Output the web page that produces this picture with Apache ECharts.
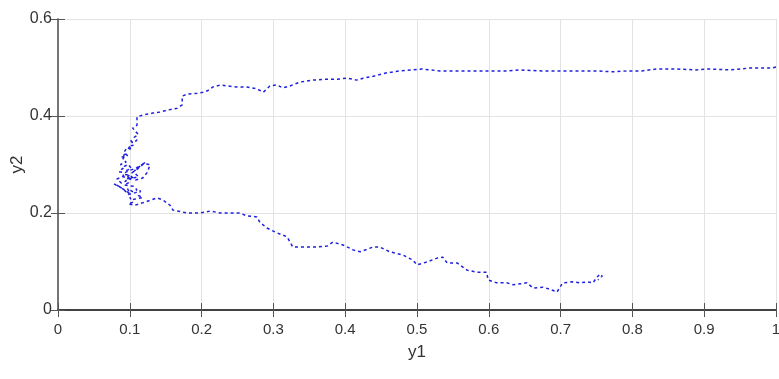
<!DOCTYPE html>
<html>
<head>
<meta charset="utf-8">
<script src="https://cdn.jsdelivr.net/npm/echarts@6/dist/echarts.min.js"></script>
<style>html,body{margin:0;padding:0;background:#fff;}#c{width:779px;height:379px;}</style>
</head>
<body>
<div id="c"></div>
<script>
// Upper branch (right to left)
var upperY1 = [1.0, 0.994, 0.964, 0.936, 0.905, 0.887, 0.862, 0.834, 0.813, 0.792, 0.773, 0.751, 0.727, 0.699, 0.674, 0.643, 0.625, 0.606, 0.588, 0.570, 0.550, 0.532, 0.518, 0.507, 0.494, 0.476, 0.458, 0.439, 0.425, 0.416, 0.403, 0.389, 0.375, 0.355, 0.337, 0.323, 0.313, 0.305, 0.295, 0.286, 0.277, 0.263, 0.249, 0.235, 0.226, 0.216, 0.208, 0.202, 0.194, 0.180, 0.173, 0.173, 0.166, 0.152, 0.142, 0.132, 0.118, 0.110, 0.110, 0.104];
var upperY2 = [0.501, 0.499, 0.499, 0.495, 0.497, 0.495, 0.497, 0.497, 0.493, 0.493, 0.491, 0.493, 0.493, 0.493, 0.493, 0.495, 0.493, 0.493, 0.493, 0.493, 0.493, 0.493, 0.495, 0.497, 0.495, 0.493, 0.489, 0.482, 0.478, 0.474, 0.478, 0.476, 0.476, 0.474, 0.470, 0.462, 0.458, 0.464, 0.462, 0.449, 0.456, 0.460, 0.460, 0.462, 0.464, 0.460, 0.452, 0.449, 0.447, 0.445, 0.441, 0.423, 0.416, 0.412, 0.408, 0.406, 0.402, 0.398, 0.381, 0.375];
// Tangled region near y1 ~ 0.1
var tangleY1 = [0.108, 0.112, 0.106, 0.110, 0.104, 0.100, 0.106, 0.098, 0.103, 0.096, 0.092, 0.097, 0.088, 0.094, 0.090, 0.095, 0.087, 0.092, 0.098, 0.102, 0.096, 0.090, 0.085, 0.093, 0.100, 0.108, 0.115, 0.122, 0.113, 0.105, 0.112, 0.100, 0.090, 0.082, 0.088, 0.095, 0.090, 0.100, 0.108, 0.118, 0.125, 0.128, 0.120, 0.110, 0.100, 0.095, 0.103, 0.098, 0.092, 0.105, 0.110, 0.104, 0.097, 0.100, 0.092, 0.085, 0.078, 0.088, 0.094, 0.098, 0.108, 0.115, 0.112, 0.118, 0.105, 0.100, 0.104, 0.098, 0.096];
var tangleY2 = [0.368, 0.362, 0.356, 0.350, 0.345, 0.352, 0.340, 0.338, 0.330, 0.335, 0.325, 0.318, 0.315, 0.322, 0.310, 0.305, 0.300, 0.296, 0.300, 0.292, 0.288, 0.292, 0.285, 0.283, 0.288, 0.292, 0.298, 0.305, 0.295, 0.285, 0.275, 0.270, 0.275, 0.270, 0.262, 0.266, 0.280, 0.278, 0.268, 0.272, 0.285, 0.300, 0.302, 0.290, 0.280, 0.270, 0.275, 0.262, 0.258, 0.255, 0.248, 0.244, 0.250, 0.240, 0.248, 0.255, 0.260, 0.252, 0.245, 0.238, 0.242, 0.246, 0.236, 0.232, 0.228, 0.232, 0.222, 0.219, 0.216];
// Lower branch (left to right)
var lowerY1 = [0.107, 0.118, 0.138, 0.146, 0.156, 0.160, 0.180, 0.198, 0.212, 0.226, 0.240, 0.253, 0.263, 0.277, 0.281, 0.291, 0.305, 0.319, 0.327, 0.341, 0.361, 0.375, 0.383, 0.397, 0.411, 0.421, 0.439, 0.448, 0.462, 0.481, 0.494, 0.500, 0.514, 0.528, 0.536, 0.542, 0.556, 0.570, 0.584, 0.597, 0.599, 0.611, 0.625, 0.634, 0.653, 0.662, 0.675, 0.685, 0.695, 0.699, 0.703, 0.717, 0.727, 0.737, 0.745, 0.751, 0.755, 0.758, 0.752];
var lowerY2 = [0.216, 0.221, 0.231, 0.227, 0.216, 0.206, 0.200, 0.200, 0.204, 0.200, 0.200, 0.200, 0.194, 0.192, 0.181, 0.169, 0.159, 0.151, 0.130, 0.130, 0.130, 0.132, 0.140, 0.134, 0.124, 0.120, 0.130, 0.130, 0.120, 0.113, 0.103, 0.093, 0.099, 0.107, 0.109, 0.097, 0.097, 0.082, 0.078, 0.078, 0.062, 0.056, 0.056, 0.052, 0.056, 0.045, 0.047, 0.043, 0.037, 0.047, 0.056, 0.058, 0.056, 0.058, 0.056, 0.068, 0.074, 0.070, 0.062];

var xTicks = [0, 0.1, 0.2, 0.3, 0.4, 0.5, 0.6, 0.7, 0.8, 0.9, 1];
var yTicks = [0, 0.2, 0.4, 0.6];

var y1 = upperY1.concat(tangleY1, lowerY1);
var y2 = upperY2.concat(tangleY2, lowerY2);
var pts = y1.map(function (v, i) { return [v, y2[i]]; });

var fmt = function (v) { return String(Math.round(v * 10) / 10); };
var font = 'Liberation Sans, Arial, sans-serif';
var chart = echarts.init(document.getElementById('c'), null, { renderer: 'canvas' });
chart.setOption({
  animation: false,
  backgroundColor: '#fff',
  grid: { left: 58, right: 3, top: 19, bottom: 69, containLabel: false, outerBoundsMode: 'none' },
  xAxis: [{
    type: 'value', min: xTicks[0], max: xTicks[xTicks.length - 1], interval: 0.1,
    name: 'y1', nameLocation: 'middle', nameGap: 34,
    nameTextStyle: { fontFamily: font, fontSize: 17, color: '#333' },
    axisLine: { lineStyle: { color: '#8a8a8a', width: 1.5 } },
    axisTick: { inside: true, length: 7, lineStyle: { color: '#555' } },
    axisLabel: { formatter: fmt, fontFamily: font, fontSize: 15, color: '#333', margin: 12 },
    splitLine: { show: true, lineStyle: { color: '#e3e3e3', width: 1 } }
  }, {
    type: 'value', position: 'top', min: 0, max: 1, interval: 0.1,
    axisLine: { show: true, lineStyle: { color: '#222', width: 1.5 } },
    axisTick: { inside: true, length: 7, lineStyle: { color: '#555' } },
    axisLabel: { show: false }, splitLine: { show: false }
  }],
  yAxis: [{
    type: 'value', min: yTicks[0], max: yTicks[yTicks.length - 1], interval: 0.2,
    name: 'y2', nameLocation: 'middle', nameGap: 32, nameMoveOverlap: false,
    nameTextStyle: { fontFamily: font, fontSize: 17, color: '#333' },
    axisLine: { show: true, lineStyle: { color: '#8a8a8a', width: 1.5 } },
    axisTick: { show: true, inside: true, length: 7, lineStyle: { color: '#555' } },
    axisLabel: { formatter: fmt, fontFamily: font, fontSize: 16, color: '#333', margin: 6 },
    splitLine: { show: true, lineStyle: { color: '#e3e3e3', width: 1 } }
  }, {
    type: 'value', position: 'right', min: 0, max: 0.6, interval: 0.2,
    axisLine: { show: true, lineStyle: { color: '#666', width: 1.5 } },
    axisTick: { show: true, inside: true, length: 7, lineStyle: { color: '#555' } },
    axisLabel: { show: false }, splitLine: { show: false }
  }],
  series: [{
    type: 'line',
    data: pts,
    showSymbol: false,
    lineStyle: { color: '#2020e0', width: 1.5, type: [3, 3] }
  }]
});
</script>
</body>
</html>
